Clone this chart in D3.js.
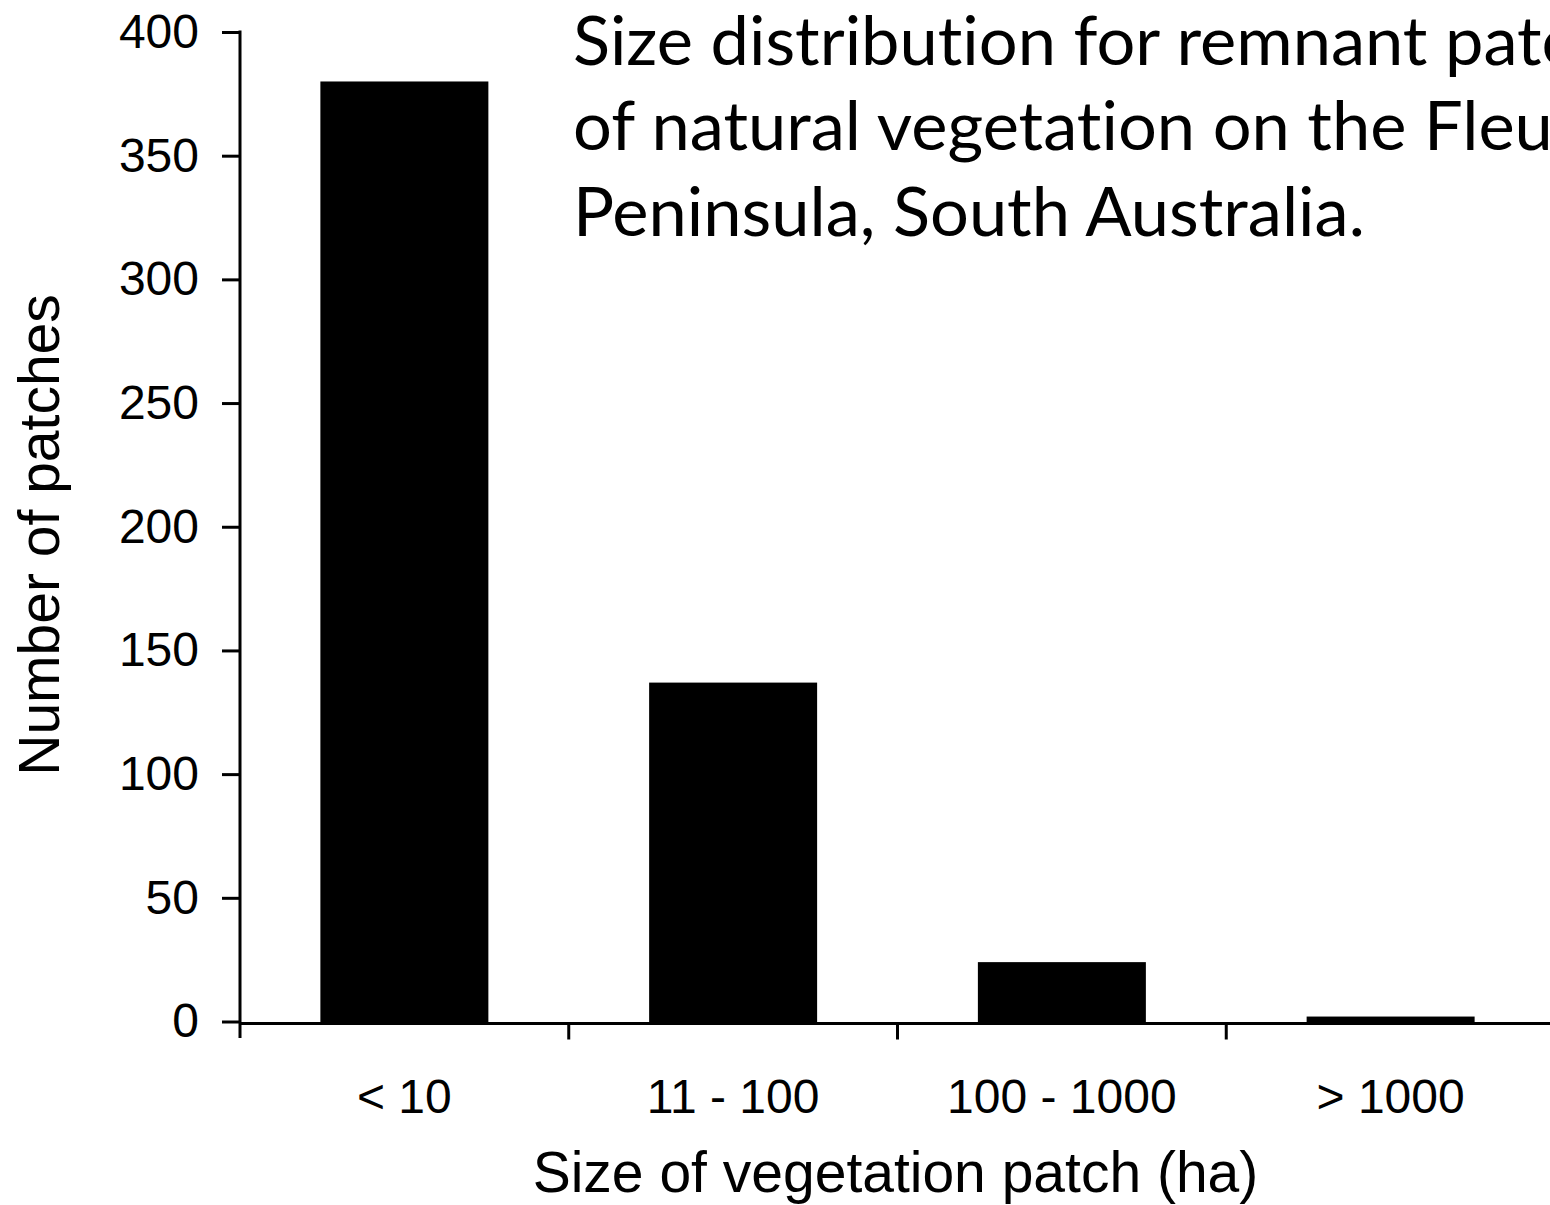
<!DOCTYPE html>
<html>
<head>
<meta charset="utf-8">
<script src="https://cdn.jsdelivr.net/npm/d3@7"></script>
<style>
  html, body { margin: 0; padding: 0; background: #fff; overflow: hidden; }
  svg { display: block; }
  .title { font-variant-ligatures: none; font-feature-settings: "liga" 0, "clig" 0, "dlig" 0; }
</style>
</head>
<body>
<svg id="chart" width="1550" height="1205"></svg>
<script>
// ---- data ----
const categories = ["< 10", "11 - 100", "100 - 1000", "> 1000"];
const patchCounts = [380, 137, 24, 2];
const yTicks = [0, 50, 100, 150, 200, 250, 300, 350, 400];
const titleLines = [
  "Size distribution for remnant patches",
  "of natural vegetation on the Fleurieu",
  "Peninsula, South Australia."
];
const xAxisTitle = "Size of vegetation patch (ha)";
const yAxisTitle = "Number of patches";

// ---- layout ----
const W = 1550, H = 1205;
const axisFont = "'Liberation Sans', Arial, Helvetica, sans-serif";
const svg = d3.select("#chart");

const x = d3.scaleBand()
  .domain(categories)
  .range([240, 1555])
  .paddingInner(0.489)
  .paddingOuter(0.2445);

const y = d3.scaleLinear()
  .domain([0, 400])
  .range([1021.5, 32]);

// bars
svg.append("g")
  .selectAll("rect")
  .data(categories.map((c, i) => ({ c, v: patchCounts[i] })))
  .join("rect")
  .attr("x", d => x(d.c))
  .attr("width", x.bandwidth())
  .attr("y", d => y(d.v))
  .attr("height", d => 1022.5 - y(d.v))
  .attr("fill", "#000");

// y axis
const yAxis = svg.append("g")
  .attr("transform", "translate(240,0)")
  .call(d3.axisLeft(y).tickValues(yTicks).tickSize(18).tickSizeOuter(0).tickPadding(23));
yAxis.select(".domain").remove();
yAxis.selectAll(".tick line").attr("stroke", "#000").attr("stroke-width", 3);
yAxis.selectAll(".tick text")
  .attr("font-family", axisFont)
  .attr("font-size", 48)
  .attr("fill", "#000");
yAxis.append("line")
  .attr("x1", 0).attr("x2", 0)
  .attr("y1", y(400) - 1.5).attr("y2", 1038)
  .attr("stroke", "#000").attr("stroke-width", 3);

// x axis
const xAxis = svg.append("g")
  .attr("transform", "translate(0,1023.5)")
  .call(d3.axisBottom(x).tickSizeInner(0).tickSizeOuter(0).tickPadding(55));
xAxis.select(".domain").remove();
xAxis.selectAll(".tick text")
  .attr("font-family", axisFont)
  .attr("font-size", 48)
  .attr("fill", "#000");
xAxis.append("line")
  .attr("x1", 240).attr("x2", W)
  .attr("y1", 0).attr("y2", 0)
  .attr("stroke", "#000").attr("stroke-width", 3);
// boundary ticks between categories
const step = x.step();
const boundaries = categories.slice(1).map(c => x(c) - x.paddingInner() * step / 2).concat([x(categories[categories.length - 1]) + x.bandwidth() + x.paddingInner() * step / 2]);
xAxis.selectAll("line.bt")
  .data(boundaries)
  .join("line")
  .attr("class", "bt")
  .attr("x1", d => d).attr("x2", d => d)
  .attr("y1", 0).attr("y2", 16)
  .attr("stroke", "#000").attr("stroke-width", 3);

// axis titles
svg.append("text")
  .attr("x", 895.5).attr("y", 1192)
  .attr("text-anchor", "middle")
  .attr("font-family", axisFont)
  .attr("font-size", 57)
  .attr("fill", "#000")
  .text(xAxisTitle);

svg.append("text")
  .attr("transform", "translate(59,535) rotate(-90)")
  .attr("text-anchor", "middle")
  .attr("font-family", axisFont)
  .attr("font-size", 57)
  .attr("fill", "#000")
  .text(yAxisTitle);

// title (overflows right edge like the original)
const tg = svg.append("g").attr("transform", "translate(573,0)");
const baselines = [65, 150.5, 236];
const tLines = tg.selectAll("text")
  .data(titleLines)
  .join("text")
  .attr("class", "title")
  .attr("x", 0)
  .attr("y", (d, i) => baselines[i])
  .attr("font-family", "Lato, 'Open Sans', sans-serif")
  .attr("font-size", 67)
  .attr("fill", "#000")
  .text(d => d);
const lastLen = tLines.nodes()[2].getComputedTextLength();
const sx = 792 / lastLen;
tg.attr("transform", `translate(573,0) scale(${sx},1)`);
</script>
</body>
</html>
